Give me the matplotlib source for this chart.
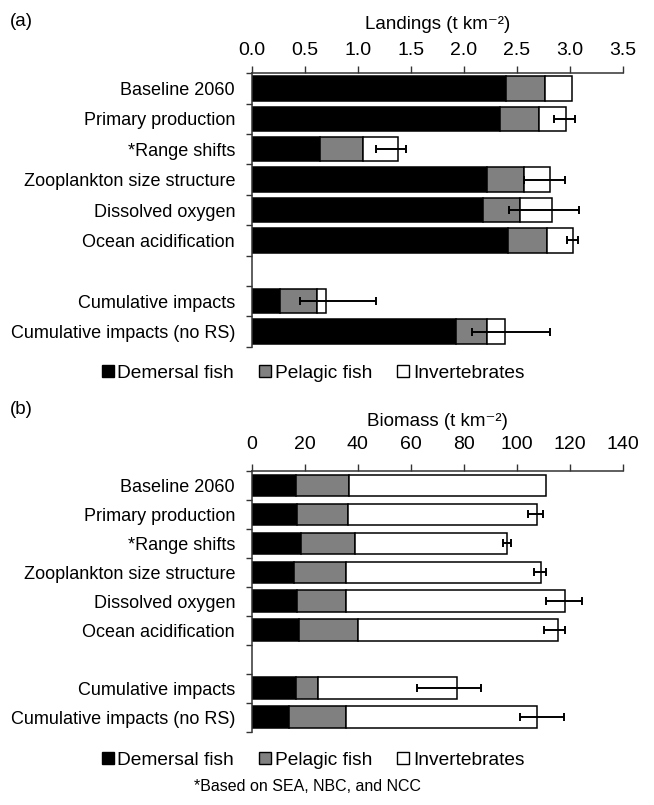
import matplotlib
matplotlib.use("Agg")
import matplotlib.pyplot as plt
import numpy as np
from matplotlib.patches import Patch

plt.rcParams['font.family'] = ['Liberation Sans', 'DejaVu Sans']

categories = ["Baseline 2060", "Primary production", "*Range shifts",
              "Zooplankton size structure", "Dissolved oxygen",
              "Ocean acidification", "", "Cumulative impacts",
              "Cumulative impacts (no RS)"]

# Panel (a): Landings (segment widths, t km-2); None = empty slot
land_demersal = [2.40, 2.345, 0.64, 2.22, 2.18, 2.42, None, 0.27, 1.925]
land_pelagic = [0.37, 0.365, 0.415, 0.345, 0.35, 0.37, None, 0.35, 0.30]
land_invert = [0.25, 0.26, 0.325, 0.25, 0.30, 0.24, None, 0.08, 0.165]
land_err_lo = [None, 2.85, 1.17, 2.57, 2.43, 2.98, None, 0.46, 2.08]
land_err_hi = [None, 3.05, 1.46, 2.96, 3.09, 3.08, None, 1.17, 2.815]

# Panel (b): Biomass (t km-2)
bio_demersal = [16.7, 17.1, 18.5, 15.8, 17.1, 17.9, None, 16.6, 14.1]
bio_pelagic = [20.2, 19.1, 20.6, 19.7, 18.6, 22.1, None, 8.3, 21.4]
bio_invert = [74.2, 71.5, 57.2, 73.6, 82.4, 75.7, None, 52.5, 72.2]
bio_err_lo = [None, 104.3, 94.8, 106.7, 111.2, 110.2, None, 62.5, 101.4]
bio_err_hi = [None, 110.0, 97.7, 110.9, 124.5, 118.2, None, 86.6, 117.9]

series_names = ["Demersal fish", "Pelagic fish", "Invertebrates"]
series_colors = ["#000000", "#808080", "#ffffff"]

land_ticks = [0.0, 0.5, 1.0, 1.5, 2.0, 2.5, 3.0, 3.5]
bio_ticks = [0, 20, 40, 60, 80, 100, 120, 140]

fig = plt.figure(figsize=(6.54, 8.05), dpi=100)
W, H = 654, 805

def fx(px):
    return px / W

def fy(py):
    return 1 - py / H

def panel(rect_px, series, err_lo, err_hi, ticks, ticklabels, xlabel, height,
          tickpad, labelpad):
    left, top, right, bottom = rect_px
    ax = fig.add_axes([fx(left), fy(bottom), fx(right) - fx(left), fy(top) - fy(bottom)])
    n = len(categories)
    y = np.arange(n)
    base = np.zeros(n)
    for vals, col in zip(series, series_colors):
        v = np.array([0 if x is None else x for x in vals], dtype=float)
        mask = np.array([x is not None for x in vals])
        ax.barh(y[mask], v[mask], left=base[mask], height=height, color=col,
                edgecolor="black", linewidth=1.1, zorder=2)
        base = base + v
    em = np.array([e is not None for e in err_lo])
    lo = np.array([0 if e is None else e for e in err_lo], dtype=float)
    hi = np.array([0 if e is None else e for e in err_hi], dtype=float)
    c = (lo + hi) / 2
    hw = (hi - lo) / 2
    ax.errorbar(c[em], y[em], xerr=hw[em], fmt="none", ecolor="black",
                elinewidth=1.4, capsize=3, capthick=1.4, zorder=3)
    ax.set_ylim(n - 0.5, -0.5)
    ax.set_xlim(ticks[0], ticks[-1])
    ax.set_xticks(ticks)
    ax.set_xticklabels(ticklabels, fontsize=14)
    ax.xaxis.tick_top()
    ax.xaxis.set_label_position("top")
    ax.set_xlabel(xlabel, fontsize=13.5, labelpad=labelpad)
    ax.tick_params(axis="x", direction="out", length=5, width=1, pad=tickpad, color="#333333")
    ax.set_yticks(y)
    ax.set_yticklabels(categories, fontsize=13)
    ax.tick_params(axis="y", length=0, pad=12)
    ax.set_yticks(np.arange(n + 1) - 0.5, minor=True)
    ax.tick_params(axis="y", which="minor", length=4, width=1, color="#333333")
    for s in ["right", "bottom"]:
        ax.spines[s].set_visible(False)
    for s in ["left", "top"]:
        ax.spines[s].set_linewidth(1.1)
        ax.spines[s].set_color("#333333")
    return ax

ax_a = panel((251.7, 73.3, 622.6, 346.7),
             [land_demersal, land_pelagic, land_invert],
             land_err_lo, land_err_hi, land_ticks,
             [f"{t:.1f}" for t in land_ticks], "Landings (t km\u207b\u00b2)", 0.8,
             5, 10)
ax_b = panel((251.7, 471.0, 622.6, 731.7),
             [bio_demersal, bio_pelagic, bio_invert],
             bio_err_lo, bio_err_hi, bio_ticks,
             [str(t) for t in bio_ticks], "Biomass (t km\u207b\u00b2)", 0.75,
             8, 7)

handles = [Patch(facecolor=c, edgecolor="black", linewidth=1.0, label=nm)
           for c, nm in zip(series_colors, series_names)]
for ycen in (373, 760):
    fig.legend(handles=handles, loc="center", bbox_to_anchor=(fx(313), fy(ycen)),
               ncol=3, frameon=False, fontsize=13.8, handlelength=0.62,
               handleheight=0.62, handletextpad=0.2, columnspacing=1.3,
               borderpad=0)

fig.text(fx(10), fy(22), "(a)", fontsize=13.5, va="center", ha="left")
fig.text(fx(10), fy(410), "(b)", fontsize=13.5, va="center", ha="left")
fig.text(fx(308), fy(786), "*Based on SEA, NBC, and NCC", fontsize=11.5,
         va="center", ha="center")

fig.savefig("out.png", dpi=100)
